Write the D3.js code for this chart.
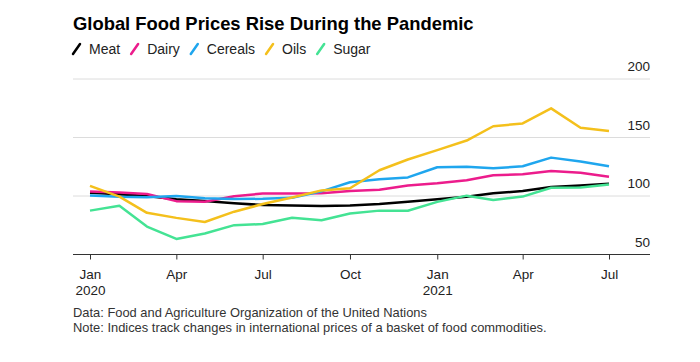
<!DOCTYPE html>
<html>
<head>
<meta charset="utf-8">
<script src="https://cdn.jsdelivr.net/npm/d3@7"></script>
<style>
  body { margin: 0; background: #fff; font-family: "Liberation Sans", Arial, Helvetica, sans-serif; }
  .grid line { stroke: #dcdcdc; }
  .tick text { fill: #222; }
</style>
</head>
<body>
<div id="chart"></div>
<script>
// monthly index values, Jan 2020 - Jul 2021 (2014-2016 = 100)
var months = ["2020-01","2020-02","2020-03","2020-04","2020-05","2020-06","2020-07","2020-08","2020-09","2020-10","2020-11","2020-12",
              "2021-01","2021-02","2021-03","2021-04","2021-05","2021-06","2021-07"];

var meat    = [102.8, 101.4, 100.0, 97.2, 95.7, 93.7, 92.3, 91.8, 91.4, 91.9, 93.2, 95.1, 97.2, 99.4, 102.3, 104.3, 107.6, 109.0, 110.4];
var dairy   = [103.8, 102.9, 101.7, 95.6, 95.0, 99.8, 102.1, 102.1, 102.4, 104.2, 105.4, 109.0, 110.8, 113.5, 117.8, 118.6, 121.4, 119.8, 116.4];
var cereals = [100.4, 99.4, 99.0, 100.0, 98.1, 97.4, 97.6, 98.4, 104.0, 111.8, 114.4, 115.9, 124.6, 125.0, 123.7, 125.4, 132.8, 129.5, 125.4];
var oils    = [108.7, 99.4, 85.6, 81.3, 77.8, 86.6, 93.1, 98.7, 104.8, 106.6, 122.0, 131.2, 139.2, 147.4, 159.6, 162.0, 174.9, 158.4, 155.6];
var sugar   = [87.5, 91.6, 73.9, 63.3, 68.0, 75.1, 76.0, 81.4, 79.3, 85.1, 87.5, 87.4, 95.0, 100.3, 96.6, 99.5, 107.1, 107.3, 109.8];

var seriesNames  = ["Meat", "Dairy", "Cereals", "Oils", "Sugar"];
var seriesColors = ["#000000", "#ec1c8c", "#1fa6ee", "#f4c01c", "#44e394"];
var seriesValues = [meat, dairy, cereals, oils, sugar];

var yTicks = [50, 100, 150, 200];

var settings = { selector: "#chart", width: 700, height: 362 };

function foodChart(settings) {

    // plot frame (gridlines run from left to right edge, data sits inside)
    var frame = {left: 73, right: 650, top: 79, bottom: 254.5};
    var dataLeft = 90, dataRight = 609;

    var parseMonth = d3.timeParse("%Y-%m");
    var dates = months.map(parseMonth);

    var x = d3.scaleTime()
        .domain(d3.extent(dates))
        .range([dataLeft, dataRight]);
    var y = d3.scaleLinear()
        .domain([50, 200])
        .range([frame.bottom, frame.top]);

    var svg = d3.select(settings.selector).append("svg")
        .attr("width", settings.width)
        .attr("height", settings.height);

    // title
    svg.append("text")
        .attr("x", 73)
        .attr("y", 30)
        .style("font-size", "18.4px")
        .style("font-weight", "bold")
        .style("fill", "#000")
        .text("Global Food Prices Rise During the Pandemic");

    // legend
    var legend = svg.append("g").attr("transform", "translate(73,49)");
    var lx = 0;
    seriesNames.forEach(function (name, i) {
        var g = legend.append("g").attr("transform", "translate(" + lx + ",0)");
        g.append("line")
            .attr("x1", 0).attr("y1", 5)
            .attr("x2", 7).attr("y2", -5)
            .style("stroke", seriesColors[i])
            .style("stroke-width", 2.5)
            .style("stroke-linecap", "round");
        var t = g.append("text")
            .attr("x", 16)
            .attr("y", 5)
            .style("font-size", "14px")
            .style("fill", "#222")
            .text(name);
        lx += 16 + t.node().getComputedTextLength() + 11;
    });

    // horizontal gridlines
    svg.append("g")
        .attr("class", "grid")
        .selectAll("line")
        .data(yTicks.filter(function (d) { return d > 50; }))
        .enter().append("line")
        .attr("x1", frame.left)
        .attr("x2", frame.right)
        .attr("y1", function (d) { return y(d); })
        .attr("y2", function (d) { return y(d); });

    // y labels sit above their gridline, right aligned
    svg.append("g")
        .selectAll("text")
        .data(yTicks)
        .enter().append("text")
        .attr("x", frame.right)
        .attr("y", function (d) { return y(d) - 8; })
        .attr("text-anchor", "end")
        .style("font-size", "13.5px")
        .style("fill", "#222")
        .text(function (d) { return d; });

    // lines
    var line = d3.line()
        .x(function (d, i) { return x(dates[i]); })
        .y(function (d) { return y(d); });

    svg.append("g")
        .selectAll("path")
        .data(seriesValues)
        .enter().append("path")
        .attr("d", line)
        .style("fill", "none")
        .style("stroke", function (d, i) { return seriesColors[i]; })
        .style("stroke-width", 2.5)
        .style("stroke-linejoin", "round");

    // x axis
    var xAxis = svg.append("g")
        .attr("transform", "translate(0," + frame.bottom + ")")
        .call(d3.axisBottom(x)
            .ticks(d3.timeMonth.every(3))
            .tickSize(5)
            .tickSizeOuter(0)
            .tickFormat(d3.timeFormat("%b")));
    xAxis.select(".domain")
        .attr("d", "M" + frame.left + ",0H" + frame.right)
        .style("stroke", "#333");
    xAxis.selectAll(".tick line").style("stroke", "#333");
    xAxis.selectAll(".tick text")
        .attr("y", 15)
        .style("font-size", "13.5px")
        .style("font-family", "Liberation Sans, Arial, sans-serif");
    xAxis.selectAll(".tick")
        .filter(function (d) { return d.getMonth() === 0; })
        .append("text")
        .attr("y", 31)
        .attr("dy", "0.71em")
        .style("fill", "#222")
        .style("font-size", "13.5px")
        .attr("text-anchor", "middle")
        .text(function (d) { return d.getFullYear(); });

    // footer
    svg.append("text")
        .attr("x", 73).attr("y", 317)
        .style("font-size", "12.9px")
        .style("fill", "#333")
        .text("Data: Food and Agriculture Organization of the United Nations");
    svg.append("text")
        .attr("x", 73).attr("y", 332)
        .style("font-size", "12.9px")
        .style("fill", "#333")
        .text("Note: Indices track changes in international prices of a basket of food commodities.");
}

foodChart(settings);
</script>
</body>
</html>
